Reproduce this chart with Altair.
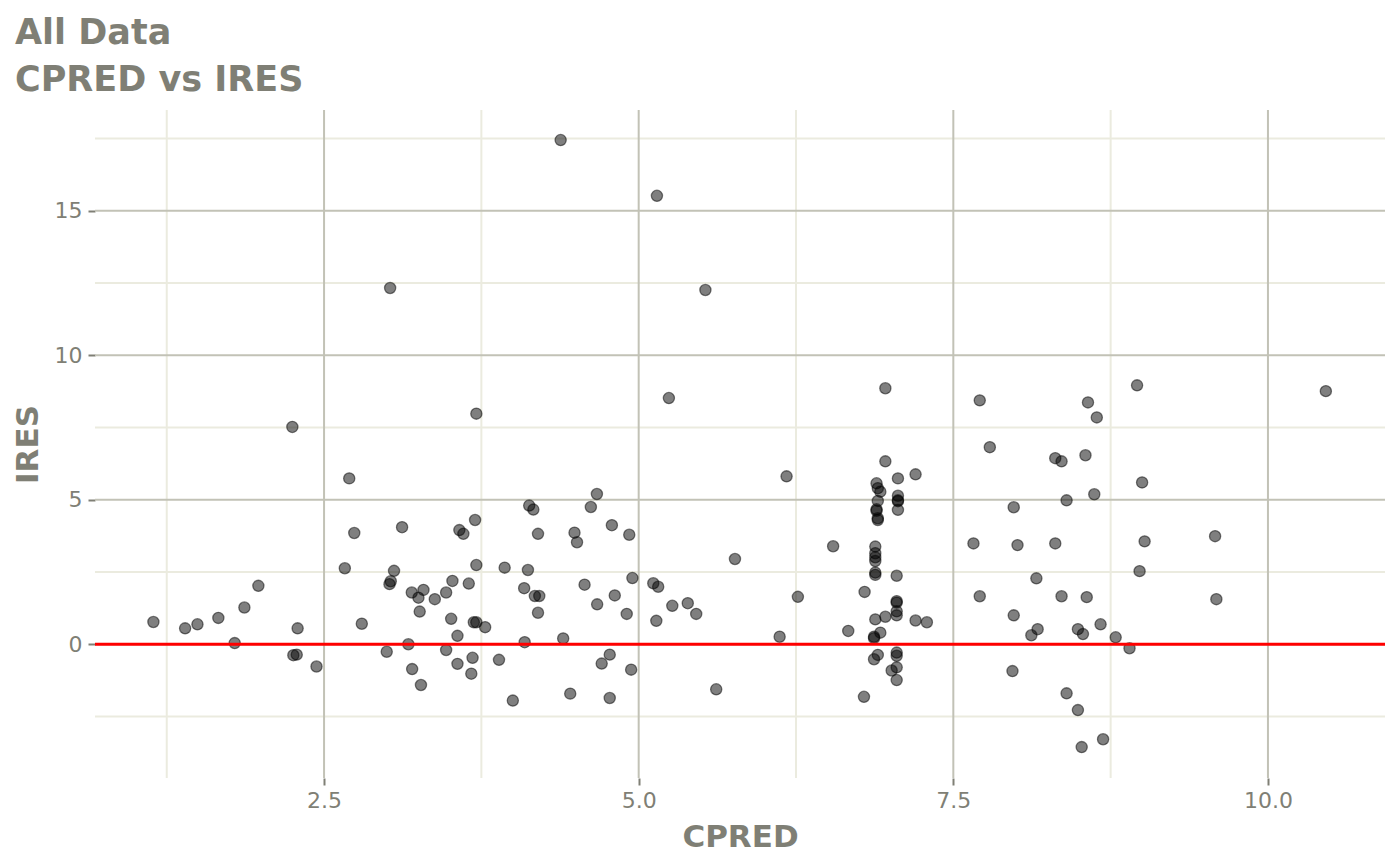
import altair as alt
import pandas as pd

cpred = [
    1.144, 1.396, 1.494, 1.66, 1.79, 1.867, 1.978, 2.248, 2.256, 2.283,
    2.29, 2.44, 2.665, 2.70, 2.74, 2.80, 2.998, 3.025, 3.02, 3.03,
    3.056, 3.12, 3.17, 3.20, 3.197, 3.25, 3.26, 3.29, 3.27, 3.38,
    3.47, 3.47, 3.51, 3.52, 3.56, 3.56, 3.575, 3.607, 3.65, 3.67,
    3.68, 3.69, 3.71, 3.70, 3.71, 3.71, 3.78, 3.89, 3.935, 4.0,
    4.09, 4.094, 4.12, 4.13, 4.163, 4.175, 4.20, 4.21, 4.20, 4.38,
    4.40, 4.456, 4.49, 4.51, 4.57, 4.62, 4.67, 4.668, 4.706, 4.77,
    4.77, 4.787, 4.81, 4.905, 4.925, 4.94, 4.95, 5.116, 5.155, 5.145,
    5.14, 5.24, 5.267, 5.39, 5.457, 5.53, 5.616, 5.765, 6.12, 6.175,
    6.265, 6.545, 6.665, 6.79, 6.795,
    6.96, 6.96, 7.06, 7.20, 6.89, 6.90, 6.92, 7.06, 7.06, 7.06,
    6.90, 7.06, 6.89, 6.89, 6.90, 6.90, 6.88, 6.88, 6.88, 6.88,
    6.88, 6.88, 7.05, 7.05, 7.05, 7.05, 7.05, 6.96, 6.88, 7.20,
    7.29, 6.92, 6.87, 6.87, 6.90, 6.87, 7.05, 7.05, 7.05, 7.01,
    7.05,
    7.71, 8.96, 8.57, 8.64, 7.79, 8.31, 8.36, 8.55, 9.00, 8.40,
    8.62, 7.98, 7.66, 8.01, 8.31, 9.02, 9.58, 8.98, 8.16, 7.71,
    8.36, 8.56, 9.59, 7.98, 8.17, 8.12, 8.49, 8.53, 8.67, 8.79,
    8.90, 7.97, 8.40, 8.49, 8.52, 8.69, 10.46,
]

ires = [
    0.77, 0.55, 0.69, 0.91, 0.04, 1.27, 2.02, 7.52, -0.38, -0.36,
    0.55, -0.77, 2.63, 5.74, 3.85, 0.71, -0.26, 12.33, 2.08, 2.18,
    2.54, 4.05, 0.0, -0.86, 1.79, 1.61, 1.13, 1.88, -1.41, 1.56,
    -0.20, 1.79, 0.88, 2.19, 0.29, -0.68, 3.95, 3.82, 2.10, -1.02,
    -0.47, 0.76, 0.76, 4.30, 7.98, 2.74, 0.59, -0.54, 2.65, -1.95,
    1.94, 0.07, 2.57, 4.80, 4.66, 1.67, 3.82, 1.67, 1.09, 17.45,
    0.20, -1.71, 3.86, 3.53, 2.06, 4.75, 1.38, 5.20, -0.67, -1.86,
    -0.36, 4.12, 1.69, 1.05, 3.79, -0.88, 2.29, 2.11, 1.99, 15.52,
    0.81, 8.52, 1.33, 1.42, 1.05, 12.26, -1.56, 2.95, 0.26, 5.81,
    1.64, 3.39, 0.46, -1.82, 1.81,
    8.86, 6.33, 5.74, 5.88, 5.57, 5.40, 5.28, 5.14, 4.98, 4.95,
    4.96, 4.65, 4.67, 4.62, 4.36, 4.30, 3.38, 3.15, 3.01, 2.88,
    2.48, 2.40, 2.37, 1.49, 1.44, 1.14, 1.00, 0.95, 0.86, 0.82,
    0.76, 0.40, 0.26, 0.21, -0.37, -0.52, -0.29, -0.40, -0.80, -0.91,
    -1.24,
    8.44, 8.96, 8.37, 7.85, 6.82, 6.44, 6.33, 6.54, 5.60, 4.98,
    5.19, 4.74, 3.49, 3.43, 3.49, 3.56, 3.74, 2.53, 2.28, 1.66,
    1.66, 1.63, 1.56, 1.00, 0.52, 0.31, 0.52, 0.35, 0.69, 0.24,
    -0.14, -0.93, -1.70, -2.28, -3.56, -3.29, 8.76,
]

x_major = [2.5, 5.0, 7.5, 10.0]
x_minor = [1.25, 3.75, 6.25, 8.75]
y_major = [0, 5, 10, 15]
y_minor = [-2.5, 2.5, 7.5, 12.5, 17.5]
ref_line = [0]

GRAY = "#7f7f75"
FONT = "DejaVu Sans"

pts = pd.DataFrame({"CPRED": cpred, "IRES": ires})

xs = alt.Scale(domain=[0.68, 10.93], nice=False, zero=False)
ys = alt.Scale(domain=[-4.63, 18.49], nice=False, zero=False)

x_axis = alt.Axis(values=x_major, format=".1f", grid=False, domain=False,
                  tickColor=GRAY, tickWidth=2, tickSize=7,
                  labelColor=GRAY, labelFont=FONT, labelFontSize=22, labelPadding=5,
                  title="CPRED", titleFont=FONT, titleFontSize=31, titleFontWeight="bold",
                  titleColor=GRAY, titlePadding=11)
y_axis = alt.Axis(values=y_major, format="d", grid=False, domain=False,
                  tickColor=GRAY, tickWidth=2, tickSize=7,
                  labelColor=GRAY, labelFont=FONT, labelFontSize=22, labelPadding=6,
                  title="IRES", titleFont=FONT, titleFontSize=31, titleFontWeight="bold",
                  titleColor=GRAY, titlePadding=10)

minor_v = alt.Chart(pd.DataFrame({"CPRED": x_minor})).mark_rule(color="#ebebdf", strokeWidth=2).encode(
    x=alt.X("CPRED:Q", scale=xs, axis=x_axis))
minor_h = alt.Chart(pd.DataFrame({"IRES": y_minor})).mark_rule(color="#ebebdf", strokeWidth=2).encode(
    y=alt.Y("IRES:Q", scale=ys, axis=y_axis))
major_v = alt.Chart(pd.DataFrame({"CPRED": x_major})).mark_rule(color="#c2c2b6", strokeWidth=2).encode(
    x=alt.X("CPRED:Q", scale=xs, axis=x_axis))
major_h = alt.Chart(pd.DataFrame({"IRES": y_major})).mark_rule(color="#c2c2b6", strokeWidth=2).encode(
    y=alt.Y("IRES:Q", scale=ys, axis=y_axis))

points = alt.Chart(pts).mark_point(
    shape="circle", filled=True, fill="black", fillOpacity=0.5,
    stroke="black", strokeOpacity=0.5, strokeWidth=1.3, size=125
).encode(
    x=alt.X("CPRED:Q", scale=xs, axis=x_axis),
    y=alt.Y("IRES:Q", scale=ys, axis=y_axis),
)

hline = alt.Chart(pd.DataFrame({"IRES": ref_line})).mark_rule(color="#ff0000", strokeWidth=3).encode(
    y=alt.Y("IRES:Q", scale=ys, axis=y_axis))

chart = alt.layer(minor_v, minor_h, major_v, major_h, points, hline).properties(
    width=1290, height=668,
    title=alt.TitleParams(
        text=["All Data", "CPRED vs IRES"], anchor="start", frame="group",
        dx=-80, offset=11, fontSize=35, font=FONT, fontWeight="bold",
        color=GRAY, lineHeight=47,
    ),
    autosize=alt.AutoSizeParams(type="none"),
    padding={"left": 87, "top": 102, "right": 7, "bottom": 86},
).configure(background="white").configure_view(strokeWidth=0, stroke="transparent")

chart.save("out.html", embed_options={"renderer": "svg", "actions": False})
